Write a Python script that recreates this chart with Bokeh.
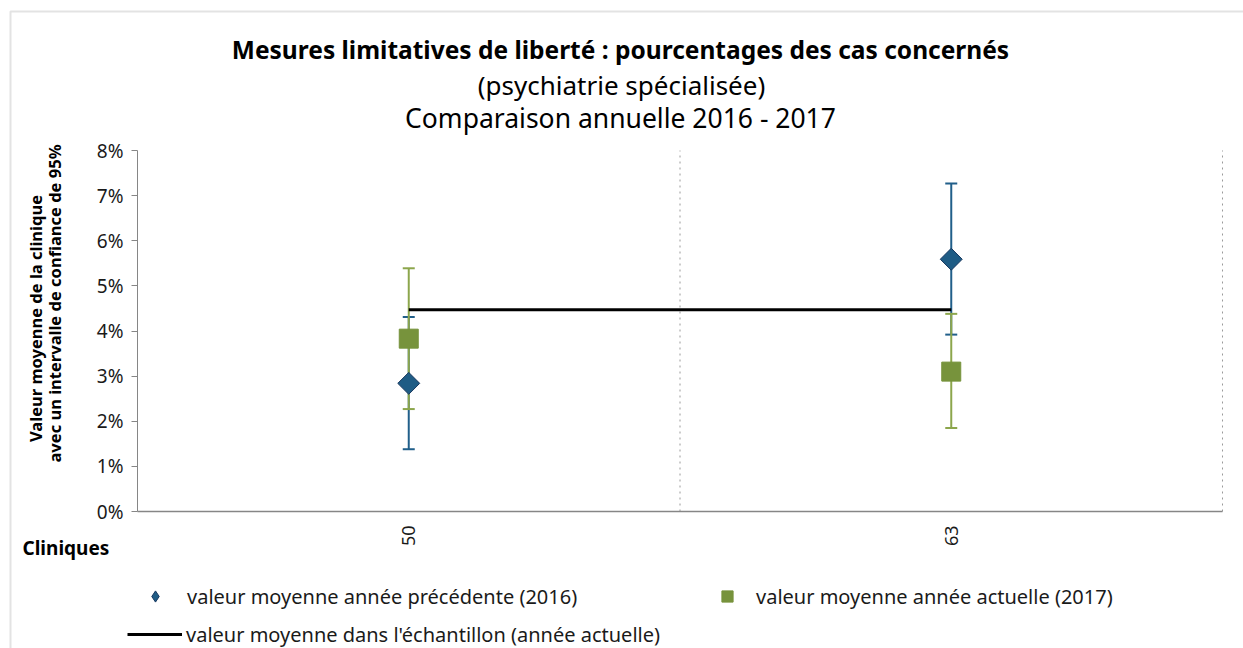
import math
from bokeh.plotting import figure
from bokeh.models import (ColumnDataSource, Range1d, FixedTicker, NumeralTickFormatter,
                          Whisker, TeeHead, Label, Legend, LegendItem, BoxAnnotation)
from bokeh.embed import file_html
from bokeh.resources import INLINE

# ---------------- data ----------------
cliniques = ["50", "63"]
prev_mean = [0.0284, 0.0559]     # 2016
prev_lower = [0.0138, 0.0392]
prev_upper = [0.0431, 0.0727]
curr_mean = [0.0383, 0.0310]     # 2017
curr_lower = [0.0227, 0.0185]
curr_upper = [0.0539, 0.0438]
sample_mean = 0.0447             # moyenne échantillon (année actuelle)
y_ticks = [0, 0.01, 0.02, 0.03, 0.04, 0.05, 0.06, 0.07, 0.08]

title1 = "Mesures limitatives de liberté : pourcentages des cas concernés"
title2 = "(psychiatrie spécialisée)"
title3 = "Comparaison annuelle 2016 - 2017"
ylab1 = "Valeur moyenne de la clinique"
ylab2 = "avec un intervalle de confiance de 95%"
xlab = "Cliniques"
leg_prev = "valeur moyenne année précédente (2016)"
leg_curr = "valeur moyenne année actuelle (2017)"
leg_mean = "valeur moyenne dans l'échantillon (année actuelle)"

FONT = "Noto Sans"
BLUE = "#1F5C85"
BLUE_EDGE = "#17375E"
BLUE_BAR = "#215F8A"
GREEN = "#77933C"
GREEN_BAR = "#8CA64C"
AXIS = "#868686"
TXT = "#1a1a1a"

# category positions on a numeric axis (one unit per clinic)
n = len(cliniques)
xpos = [i + 0.5 for i in range(n)]
ymax = max(y_ticks)

W, H = 1243, 648
# plot area within the canvas (pixels): left 137, right 1222, top 150, bottom 511
L, R, T, B = 137, 1222, 150, 511
pxu_x = (R - L) / n
pxu_y = (B - T) / ymax
x_range = Range1d(-L / pxu_x, n + (W - R) / pxu_x)
y_range = Range1d(-(H - B) / pxu_y, ymax + T / pxu_y)

p = figure(width=W, height=H, x_range=x_range, y_range=y_range, output_backend="svg",
           toolbar_location=None, title=None, min_border=0)
p.outline_line_color = None
p.background_fill_color = "white"
p.border_fill_color = "white"
p.xgrid.visible = False
p.ygrid.visible = False

# y axis (drawn at the left edge of the plot area)
p.yaxis.fixed_location = 0
p.yaxis.bounds = (0, ymax)
p.yaxis.ticker = FixedTicker(ticks=y_ticks)
p.yaxis.formatter = NumeralTickFormatter(format="0%")
p.yaxis.axis_line_color = AXIS
p.yaxis.major_tick_line_color = AXIS
p.yaxis.major_tick_in = 0
p.yaxis.major_tick_out = 6
p.yaxis.minor_tick_line_color = None
p.yaxis.major_label_text_font = FONT
p.yaxis.major_label_text_font_size = "19px"
p.yaxis.major_label_text_color = TXT
p.yaxis.major_label_standoff = 8

# x axis
p.xaxis.fixed_location = 0
p.xaxis.bounds = (0, n)
p.xaxis.ticker = FixedTicker(ticks=xpos)
p.xaxis.major_label_overrides = {x: c for x, c in zip(xpos, cliniques)}
p.xaxis.axis_line_color = AXIS
p.xaxis.axis_line_width = 1.5
p.xaxis.major_tick_line_color = None
p.xaxis.minor_tick_line_color = None
p.xaxis.major_label_orientation = math.pi / 2
p.xaxis.major_label_text_font = FONT
p.xaxis.major_label_text_font_size = "18px"
p.xaxis.major_label_text_color = TXT
p.xaxis.major_label_standoff = 8

# dotted separators between clinics
seps = [float(i) for i in range(1, n + 1)]
p.segment(x0=seps, y0=[0] * n, x1=seps, y1=[ymax] * n, line_color="#9a9a9a",
          line_dash="dotted", line_width=1)

# chart border (top and left edges visible)
p.add_layout(BoxAnnotation(left=10, right=3000, top=H - 11, bottom=-3000,
                           left_units="screen", right_units="screen",
                           top_units="screen", bottom_units="screen",
                           fill_alpha=0, line_color="#a3a3a3", line_width=2))

src_prev = ColumnDataSource(dict(x=xpos, y=prev_mean, lower=prev_lower, upper=prev_upper))
src_curr = ColumnDataSource(dict(x=xpos, y=curr_mean, lower=curr_lower, upper=curr_upper))

w_prev = Whisker(source=src_prev, base="x", lower="lower", upper="upper", dimension="height",
                 line_color=BLUE_BAR, line_width=2, level="underlay",
                 upper_head=TeeHead(size=12, line_color=BLUE_BAR, line_width=2),
                 lower_head=TeeHead(size=12, line_color=BLUE_BAR, line_width=2))
w_curr = Whisker(source=src_curr, base="x", lower="lower", upper="upper", dimension="height",
                 line_color=GREEN_BAR, line_width=2, level="underlay",
                 upper_head=TeeHead(size=12, line_color=GREEN_BAR, line_width=2),
                 lower_head=TeeHead(size=12, line_color=GREEN_BAR, line_width=2))
p.add_layout(w_prev)
p.add_layout(w_curr)

r_mean = p.line(x=xpos, y=[sample_mean] * n, line_color="black", line_width=3)
# legend key for the 2016 series (legends do not rotate markers): zero-size in the plot,
# the legend sizes its key from the legend box
r_prev_key = p.scatter(x="x", y="y", source=src_prev, marker="diamond", size=0,
                       fill_color=BLUE, line_color=BLUE_EDGE, line_width=1)
r_prev = p.scatter(x="x", y="y", source=src_prev, marker="square", angle=math.pi / 4, size=15.5,
                   fill_color=BLUE, line_color=BLUE_EDGE, line_width=1)
r_curr = p.scatter(x="x", y="y", source=src_curr, marker="square", size=19,
                   fill_color=GREEN, line_color=GREEN, line_width=1)

# legends (screen px from bottom-left of canvas)
def mk_legend(label, rend, loc, gw, gh, standoff):
    lg = Legend(items=[LegendItem(label=label, renderers=[rend])], location=loc,
                glyph_width=gw, glyph_height=gh, label_height=28, label_standoff=standoff,
                padding=0, margin=0, border_line_color=None, background_fill_alpha=0,
                label_text_font=FONT, label_text_font_size="20px", label_text_color=TXT)
    p.add_layout(lg, "center")

mk_legend(leg_prev, r_prev_key, (141, H - 611), 28, 30, 18)
mk_legend(leg_curr, r_curr, (713, H - 610), 28, 28, 15)
mk_legend(leg_mean, r_mean, (127, H - 648), 55, 28, 4)

# titles and axis labels (screen px from bottom-left of canvas)
def lab(text, x, y, size, bold=False, align="center", angle=0.0, baseline="alphabetic"):
    p.add_layout(Label(x=x, y=y, x_units="screen", y_units="screen", text=text,
                       text_font=FONT, text_font_size=size,
                       text_font_style="bold" if bold else "normal",
                       text_align=align, text_baseline=baseline, angle=angle,
                       text_color="black"))

lab(title1, 620, H - 49, "24.5px", bold=True)
lab(title2, 621, H - 84, "26px")
lab(title3, 620, H - 117, "26.5px")
lab(ylab1, 35, H - 318, "16.5px", bold=True, angle=math.pi / 2, baseline="middle")
lab(ylab2, 54, H - 303, "16.5px", bold=True, angle=math.pi / 2, baseline="middle")
lab(xlab, 22, H - 547, "19px", bold=True, align="left")

open("out.html", "w").write(file_html(p, INLINE))
